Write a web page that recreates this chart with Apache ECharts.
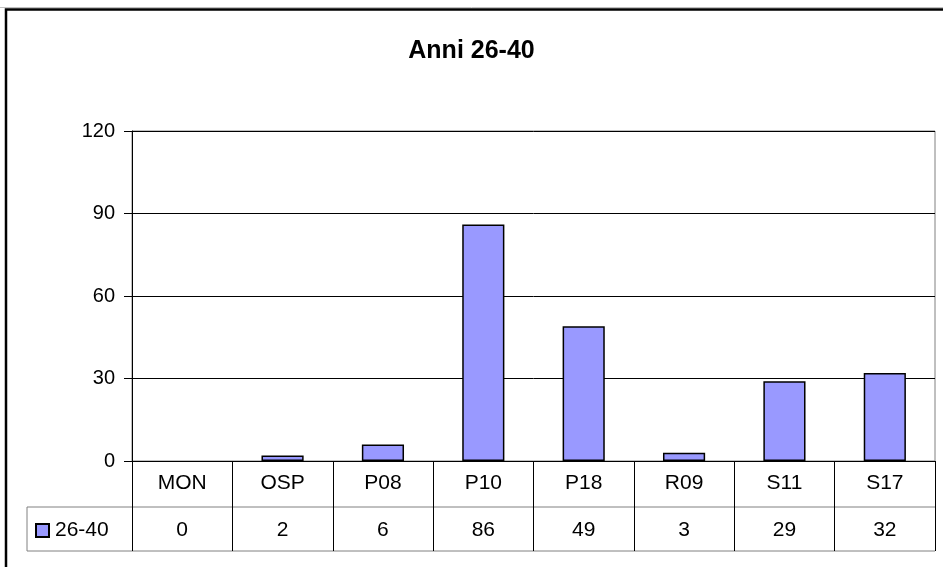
<!DOCTYPE html>
<html>
<head>
<meta charset="utf-8">
<script src="https://cdn.jsdelivr.net/npm/echarts@6/dist/echarts.min.js"></script>
<style>html,body{margin:0;padding:0;background:#fff}#c{width:943px;height:567px}</style>
</head>
<body>
<div id="c"></div>
<script>
const categories = ['MON', 'OSP', 'P08', 'P10', 'P18', 'R09', 'S11', 'S17'];
const values = [0, 2, 6, 86, 49, 3, 29, 32];
const seriesName = '26-40';
const titleText = 'Anni 26-40';
const yTicks = { min: 0, max: 120, interval: 30 };

const FONT = '"Liberation Sans", Arial, sans-serif';
const FS = 21;
const chart = echarts.init(document.getElementById('c'), null, { renderer: 'canvas' });
const gridL = 132, gridR = 935, gridT = 131, gridB = 461;
const row1B = 507, row2B = 551, tableL = 27;
const gray = '#808080';

chart.setOption({
  animation: false,
  backgroundColor: '#fff',
  textStyle: { fontFamily: FONT },
  title: {
    text: titleText, left: 'center', top: 34,
    textStyle: { fontFamily: FONT, fontSize: 25, fontWeight: 'bold', color: '#000' }
  },
  legend: {
    data: [seriesName], left: 35, top: 520, icon: 'rect', itemWidth: 13, itemHeight: 13,
    itemGap: 4, textStyle: { fontFamily: FONT, fontSize: FS, color: '#000', padding: [0,0,0,1] },
    padding: 0
  },
  grid: { left: gridL, right: 943 - gridR, top: gridT, bottom: 567 - gridB, show: true, borderColor: gray, borderWidth: 1 },
  xAxis: [{
    type: 'category', data: categories, position: 'bottom',
    axisLine: { show: true, lineStyle: { color: '#000', width: 1 } },
    axisTick: { show: true, length: row2B - gridB, lineStyle: { color: '#000', width: 1 } },
    axisLabel: { fontFamily: FONT, fontSize: FS, color: '#000', margin: 12 },
    splitLine: { show: false }
  }, {
    type: 'category', data: categories, position: 'bottom', offset: row1B - gridB,
    axisLine: { show: false }, axisTick: { show: false },
    axisLabel: { fontFamily: FONT, fontSize: FS, color: '#000', margin: 13, formatter: (v, i) => String(values[i]) },
    splitLine: { show: false }
  }],
  yAxis: {
    type: 'value', min: yTicks.min, max: yTicks.max, interval: yTicks.interval,
    axisLine: { show: true, lineStyle: { color: '#000', width: 1 } },
    axisTick: { show: true, length: 8, lineStyle: { color: '#000' } },
    axisLabel: { fontFamily: FONT, fontSize: 20, color: '#000', margin: 17 },
    splitLine: { show: true, lineStyle: { color: '#000', width: 1 } }
  },
  series: [{
    name: seriesName, type: 'bar', xAxisIndex: 0, barWidth: '42%',
    data: values.map(v => v === 0 ? { value: v, itemStyle: { borderWidth: 0 } } : v),
    itemStyle: { color: '#9999FF', borderColor: '#000', borderWidth: 1.5 }
  }],
  graphic: [
    { type: 'line', shape: { x1: 0, y1: 7.5, x2: 943, y2: 7.5 }, style: { stroke: '#c0c0c0', lineWidth: 1 }, silent: true },
    { type: 'rect', shape: { x: 6, y: 9.5, width: 1100, height: 1100 }, style: { fill: 'none', stroke: '#000', lineWidth: 2.5 }, silent: true },
    { type: 'line', shape: { x1: tableL, y1: row1B, x2: gridR, y2: row1B }, style: { stroke: gray, lineWidth: 1 }, silent: true },
    { type: 'line', shape: { x1: tableL, y1: row2B, x2: gridR, y2: row2B }, style: { stroke: gray, lineWidth: 1 }, silent: true },
    { type: 'line', shape: { x1: tableL, y1: row1B, x2: tableL, y2: row2B }, style: { stroke: gray, lineWidth: 1 }, silent: true }
  ]
});
</script>
</body>
</html>
